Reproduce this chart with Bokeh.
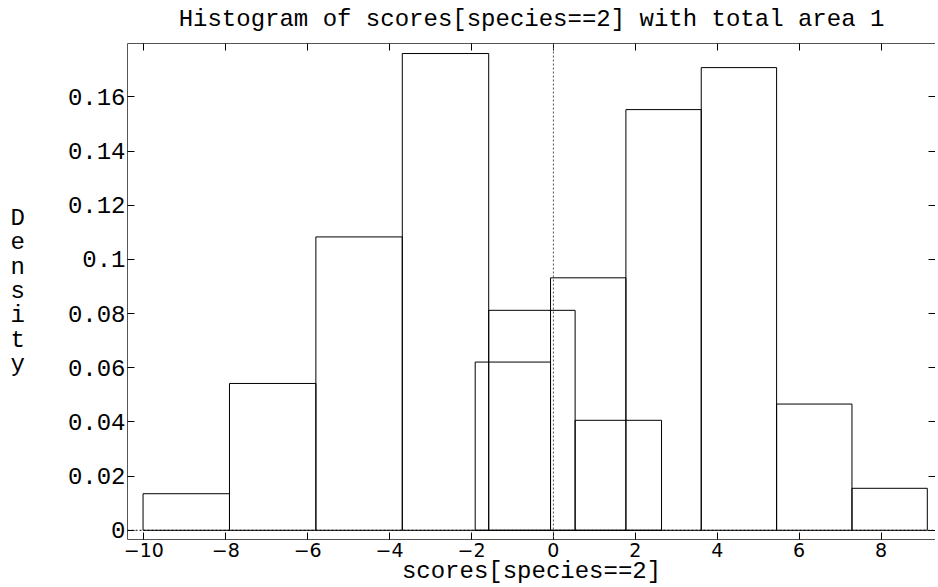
from bokeh.plotting import figure
from bokeh.models import LinearAxis, FixedTicker, Span, Range1d
from bokeh.embed import file_html
from bokeh.resources import INLINE

# ---- data ----
hist1_edges = [-10.02, -7.91, -5.80, -3.69, -1.58, 0.53, 2.64]
hist1_density = [0.0135, 0.0542, 0.1083, 0.1760, 0.0812, 0.0406]
hist2_edges = [-1.91, -0.07, 1.77, 3.61, 5.45, 7.29, 9.13]
hist2_density = [0.0621, 0.0932, 0.1553, 0.1708, 0.0466, 0.0155]

x_ticks = [-10, -8, -6, -4, -2, 0, 2, 4, 6, 8]
x_tick_labels = ["−10", "−8", "−6", "−4", "−2", "0", "2", "4", "6", "8"]
y_ticks = [0, 0.02, 0.04, 0.06, 0.08, 0.1, 0.12, 0.14, 0.16]
y_tick_labels = ["0", "0.02", "0.04", "0.06", "0.08", "0.1", "0.12", "0.14", "0.16"]

title_text = "Histogram of scores[species==2] with total area 1"
x_label = "scores[species==2]"
y_label = "Density"

MONO = "Liberation Mono"
SANS = "DejaVu Sans"

p = figure(
    output_backend="svg", toolbar_location=None,
    frame_width=808, frame_height=496,
    x_range=Range1d(-10.40, 9.33), y_range=Range1d(-0.0034, 0.1797),
    x_axis_location=None, y_axis_location=None,
    min_border_left=127, min_border_right=0, min_border_top=37, min_border_bottom=0,
)
p.styles = {"margin-top": "-7px"}
p.outline_line_color = None
p.grid.visible = False
p.background_fill_color = "white"
p.border_fill_color = "white"

p.title.text = title_text
p.title.align = "center"
p.title.text_font = MONO
p.title.text_font_size = "24px"
p.title.text_font_style = "normal"
p.title.text_color = "black"
p.title.text_line_height = 1.0
p.title.standoff = 21

AX = "#555555"

def base_axis(ax, ticks):
    ax.ticker = FixedTicker(ticks=ticks)
    ax.axis_line_color = AX
    ax.axis_line_width = 1
    ax.major_tick_in = 7
    ax.major_tick_out = 0
    ax.major_tick_line_color = "black"
    ax.minor_tick_line_color = None
    return ax

# bottom axis
xb = base_axis(LinearAxis(), x_ticks)
xb.major_label_overrides = dict(zip(x_ticks, x_tick_labels))
xb.major_label_text_font = SANS
xb.major_label_text_font_size = "19px"
xb.major_label_text_color = "black"
xb.major_label_text_line_height = 1.0
xb.major_label_standoff = 3
xb.axis_label = x_label
xb.axis_label_text_font = MONO
xb.axis_label_text_font_size = "24px"
xb.axis_label_text_font_style = "normal"
xb.axis_label_text_color = "black"
xb.axis_label_text_line_height = 1.0
xb.axis_label_standoff = -2
p.add_layout(xb, "below")

# left axis
yl = base_axis(LinearAxis(), y_ticks)
yl.major_label_overrides = dict(zip(y_ticks, y_tick_labels))
yl.major_label_text_font = MONO
yl.major_label_text_font_size = "24px"
yl.major_label_text_color = "black"
yl.major_label_standoff = 2
yl.axis_label = "\n".join(list(y_label))
yl.axis_label_orientation = "horizontal"
yl.axis_label_text_font = MONO
yl.axis_label_text_font_size = "24px"
yl.axis_label_text_font_style = "normal"
yl.axis_label_text_color = "black"
yl.axis_label_text_line_height = 0.9
yl.axis_label_standoff = 40
p.add_layout(yl, "left")

# top axis (ticks only)
xt = base_axis(LinearAxis(), x_ticks)
xt.major_label_text_font_size = "0px"
xt.major_label_standoff = 0
p.add_layout(xt, "above")

# right axis (ticks only)
yr = base_axis(LinearAxis(), y_ticks)
yr.major_label_text_font_size = "0px"
yr.major_label_standoff = 0
yr.axis_line_color = None
p.add_layout(yr, "right")

# reference dotted lines
p.add_layout(Span(location=0, dimension="width", line_color="black",
                  line_dash="2 2", line_width=1))
p.add_layout(Span(location=0, dimension="height", line_color="#555555",
                  line_dash="2 2", line_width=1))

# histograms (outlines only)
p.quad(left=hist1_edges[:-1], right=hist1_edges[1:], top=hist1_density, bottom=0,
       fill_color=None, line_color="black", line_width=1)
p.quad(left=hist2_edges[:-1], right=hist2_edges[1:], top=hist2_density, bottom=0,
       fill_color=None, line_color="black", line_width=1)

open("out.html", "w").write(file_html(p, INLINE))
